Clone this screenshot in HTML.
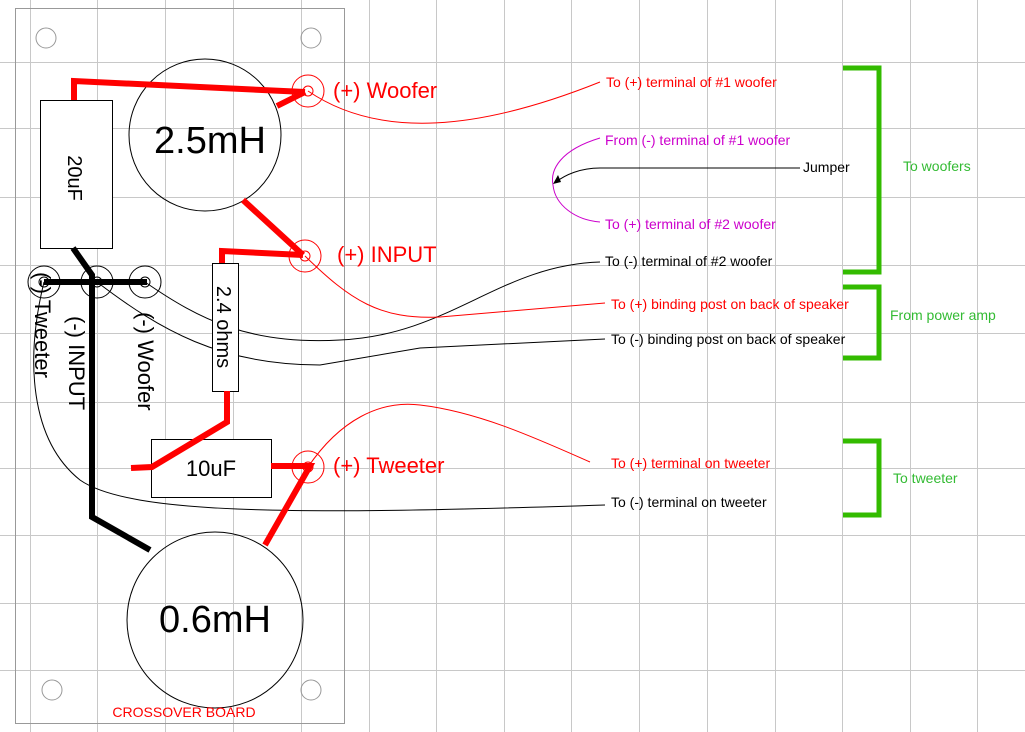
<!DOCTYPE html>
<html><head><style>html,body{margin:0;padding:0;background:#fff}svg{display:block}text{font-family:"Liberation Sans",Arial,sans-serif}</style></head>
<body>
<svg width="1025" height="732" viewBox="0 0 1025 732" xmlns="http://www.w3.org/2000/svg">
<g stroke="#c8c8c8" stroke-width="1">
<line x1="30.5" y1="0" x2="30.5" y2="732"/><line x1="97.5" y1="0" x2="97.5" y2="732"/><line x1="165.5" y1="0" x2="165.5" y2="732"/><line x1="233.5" y1="0" x2="233.5" y2="732"/><line x1="301.5" y1="0" x2="301.5" y2="732"/><line x1="369.5" y1="0" x2="369.5" y2="732"/><line x1="436.5" y1="0" x2="436.5" y2="732"/><line x1="504.5" y1="0" x2="504.5" y2="732"/><line x1="571.5" y1="0" x2="571.5" y2="732"/><line x1="639.5" y1="0" x2="639.5" y2="732"/><line x1="707.5" y1="0" x2="707.5" y2="732"/><line x1="775.5" y1="0" x2="775.5" y2="732"/><line x1="842.5" y1="0" x2="842.5" y2="732"/><line x1="910.5" y1="0" x2="910.5" y2="732"/><line x1="977.5" y1="0" x2="977.5" y2="732"/>
<line x1="0" y1="62.5" x2="1025" y2="62.5"/><line x1="0" y1="128.5" x2="1025" y2="128.5"/><line x1="0" y1="197.5" x2="1025" y2="197.5"/><line x1="0" y1="265.5" x2="1025" y2="265.5"/><line x1="0" y1="333.5" x2="1025" y2="333.5"/><line x1="0" y1="402.5" x2="1025" y2="402.5"/><line x1="0" y1="468.5" x2="1025" y2="468.5"/><line x1="0" y1="535.5" x2="1025" y2="535.5"/><line x1="0" y1="603.5" x2="1025" y2="603.5"/><line x1="0" y1="670.5" x2="1025" y2="670.5"/>
</g>
<rect x="15.5" y="8.5" width="329" height="715" fill="none" stroke="#999"/>
<g fill="none" stroke="#999"><circle cx="46" cy="38" r="10"/><circle cx="311" cy="38" r="10"/><circle cx="52" cy="690" r="10"/><circle cx="311" cy="690" r="10"/></g>

<g fill="none" stroke-width="1">
<path d="M308,91 C380,140 480,130 600,82" stroke="red"/>
<path d="M600,138 C560,150 550,170 553,185 C555,205 575,220 600,222" stroke="#c0c"/>
<path d="M800,168 L600,168 C580,168 565,175 556,182" stroke="#000"/>
<path d="M145,282 C200,320 250,345 340,340 C450,335 500,265 600,262" stroke="#000"/>
<path d="M305,256 C350,300 380,320 440,317 L605,303" stroke="red"/>
<path d="M97,282 C160,330 220,365 320,365 L420,348 L605,339" stroke="#000"/>
<path d="M308,467 C340,420 380,400 420,405 C480,412 540,440 590,462" stroke="red"/>
<path d="M44,282 C25,360 30,440 80,480 C130,515 300,515 605,505" stroke="#000"/>
</g>
<path d="M553,184 L558,175 L561,182 Z" fill="#000"/>

<circle cx="205" cy="135" r="76" fill="none" stroke="#000"/>
<text x="210" y="153" font-size="38" text-anchor="middle">2.5mH</text>
<circle cx="215" cy="620" r="88" fill="none" stroke="#000"/>
<text x="215" y="632" font-size="38" text-anchor="middle">0.6mH</text>
<rect x="40.5" y="100.5" width="72" height="148" fill="#fff" stroke="#000"/>
<text transform="translate(68,178) rotate(90)" font-size="20" text-anchor="middle">20uF</text>
<rect x="212.5" y="263.5" width="26" height="128" fill="#fff" stroke="#000"/>
<text transform="translate(217,327) rotate(90)" font-size="20" text-anchor="middle">2.4 ohms</text>
<rect x="151.5" y="439.5" width="120" height="58" fill="#fff" stroke="#000"/>
<text x="211" y="476" font-size="22" text-anchor="middle">10uF</text>

<g fill="none" stroke="red" stroke-width="6" stroke-linejoin="miter">
<polyline points="74,100 74,81 305,92"/>
<line x1="277" y1="106" x2="305" y2="92"/>
<line x1="243" y1="200" x2="303" y2="255"/>
<polyline points="222,263 222,251 303,255"/>
<polyline points="227,391 227,422 152,467 131,468"/>
<polyline points="271,466 310,466 265,545"/>
</g>
<g fill="none" stroke="red" stroke-width="1">
<circle cx="308" cy="91" r="5"/><circle cx="308" cy="91" r="16"/>
<circle cx="305" cy="256" r="5"/><circle cx="305" cy="256" r="16"/>
<circle cx="308" cy="467" r="5"/><circle cx="308" cy="467" r="16"/>
</g>
<g fill="none" stroke="#000" stroke-width="1">
<circle cx="44" cy="282" r="5"/><circle cx="44" cy="282" r="16"/>
<circle cx="97" cy="282" r="5"/><circle cx="97" cy="282" r="16"/>
<circle cx="145" cy="282" r="5"/><circle cx="145" cy="282" r="16"/>
</g>
<g fill="none" stroke="#000" stroke-width="6">
<line x1="44" y1="282" x2="147" y2="282"/>
<polyline points="73,248 92,275 92,517 150,550"/>
</g>

<g font-size="22" fill="#000">
<text transform="translate(35,272) rotate(90)">(-) Tweeter</text>
<text transform="translate(69,316) rotate(90)">(-) INPUT</text>
<text transform="translate(138,312) rotate(90)">(-) Woofer</text>
</g>
<g font-size="22" fill="red">
<text x="333" y="98">(+) Woofer</text>
<text x="337" y="262">(+) INPUT</text>
<text x="333" y="473">(+) Tweeter</text>
</g>
<text x="184" y="717" font-size="14" fill="red" text-anchor="middle">CROSSOVER BOARD</text>

<g font-size="14">
<text x="606" y="87" fill="red">To (+) terminal of #1 woofer</text>
<text x="605" y="145" fill="#c0c">From (-) terminal of #1 woofer</text>
<text x="803" y="172" fill="#000">Jumper</text>
<text x="605" y="229" fill="#c0c">To (+) terminal of #2 woofer</text>
<text x="605" y="266" fill="#000">To (-) terminal of #2 woofer</text>
<text x="611" y="309" fill="red">To (+) binding post on back of speaker</text>
<text x="611" y="344" fill="#000">To (-) binding post on back of speaker</text>
<text x="611" y="468" fill="red">To (+) terminal on tweeter</text>
<text x="611" y="507" fill="#000">To (-) terminal on tweeter</text>
<text x="903" y="171" fill="#3b3">To woofers</text>
<text x="890" y="320" fill="#3b3">From power amp</text>
<text x="893" y="483" fill="#3b3">To tweeter</text>
</g>
<g fill="none" stroke="#33bb00" stroke-width="5">
<polyline points="843,68 879,68 879,272 843,272"/>
<polyline points="843,287 879,287 879,358 843,358"/>
<polyline points="843,441 879,441 879,515 843,515"/>
</g>
</svg>
</body></html>
